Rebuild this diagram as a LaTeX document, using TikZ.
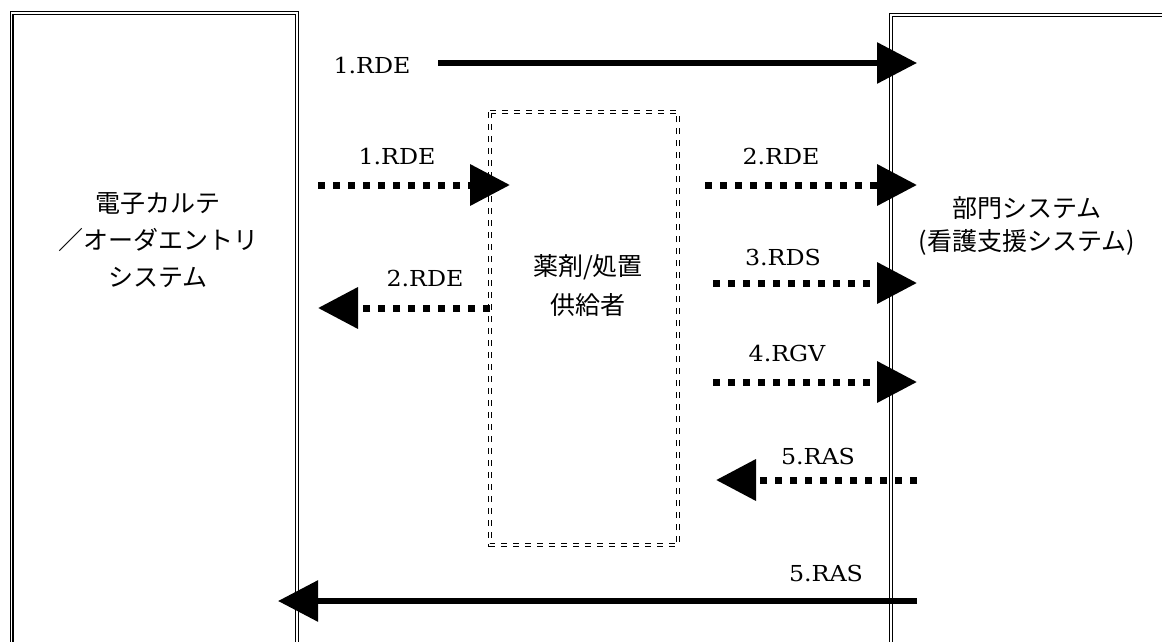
\documentclass[tikz,border=0pt]{standalone}
\usepackage{fontspec}
\usepackage{graphicx}
\newfontfamily\jfont{Noto Sans CJK JP}
\newfontfamily\lfont{DejaVu Serif}
\usetikzlibrary{arrows.meta}
\tikzset{
 sysbox/.style={draw, double, double distance=1.6pt, line width=1.2pt},
 supbox/.style={draw, double, double distance=1.4pt, line width=1pt, dash pattern=on 6pt off 6pt},
 jtext/.style={font=\jfont\fontsize{25}{37}\selectfont, align=center, inner sep=0pt},
 lbl/.style={font=\lfont\fontsize{22}{22}\selectfont, inner sep=0pt},
 solidarr/.style={line width=6pt, -{Triangle[length=40pt,width=40pt]}},
 dotarr/.style={line width=7pt, dash pattern=on 7pt off 8pt, -{Triangle[length=40pt,width=40pt]}},
}
\newcommand{\wlbl}[1]{\scalebox{1.08}[1]{#1}}
\begin{document}
\begin{tikzpicture}[x=1pt,y=-1pt]
\useasboundingbox (0,0) rectangle (1162,642);
\clip (0,0) rectangle (1162,642);
% system boxes
\draw[sysbox] (11.5,700) |- (297,13) -- (297,700);
\draw[sysbox] (891,700) |- (1200,15);
\draw[supbox] (490,112) rectangle (678,545);
% texts
\node[jtext] (emr) at (158,240) {電子カルテ\\／オーダエントリ\\システム};
\node[jtext, font=\jfont\fontsize{25}{39}\selectfont] (sup) at (588,286) {薬剤/処置\\供給者};
\node[jtext, font=\jfont\fontsize{25}{33}\selectfont] (dep) at (1027,226) {部門システム\\(看護支援システム)};
% coordinates
\coordinate (a1s) at (438,63);  \coordinate (a1e) at (917,63);
\coordinate (a2s) at (318,185); \coordinate (a2e) at (510,185);
\coordinate (a3s) at (490,308); \coordinate (a3e) at (318,308);
\coordinate (a4s) at (705,185); \coordinate (a4e) at (917,185);
\coordinate (a5s) at (713,283); \coordinate (a5e) at (917,283);
\coordinate (a6s) at (713,382); \coordinate (a6e) at (917,382);
\coordinate (a7s) at (917,480); \coordinate (a7e) at (716,480);
\coordinate (a8s) at (917,601); \coordinate (a8e) at (278,601);
% arrows
\draw[solidarr] (a1s) -- (a1e);
\draw[dotarr] (a2s) -- (a2e);
\draw[dotarr] (a3s) -- (a3e);
\draw[dotarr] (a4s) -- (a4e);
\draw[dotarr] (a5s) -- (a5e);
\draw[dotarr] (a6s) -- (a6e);
\draw[dotarr] (a7s) -- (a7e);
\draw[solidarr] (a8s) -- (a8e);
% labels
\node[lbl] (l1) at (372,65) {\wlbl{1.RDE}};
\node[lbl] (l2) at (397,156) {\wlbl{1.RDE}};
\node[lbl] (l3) at (425,278) {\wlbl{2.RDE}};
\node[lbl] (l4) at (781,156) {\wlbl{2.RDE}};
\node[lbl] (l5) at (783,257) {\wlbl{3.RDS}};
\node[lbl] (l6) at (787,353) {\wlbl{4.RGV}};
\node[lbl] (l7) at (818,456) {\wlbl{5.RAS}};
\node[lbl] (l8) at (826,573) {\wlbl{5.RAS}};
\end{tikzpicture}
\end{document}
